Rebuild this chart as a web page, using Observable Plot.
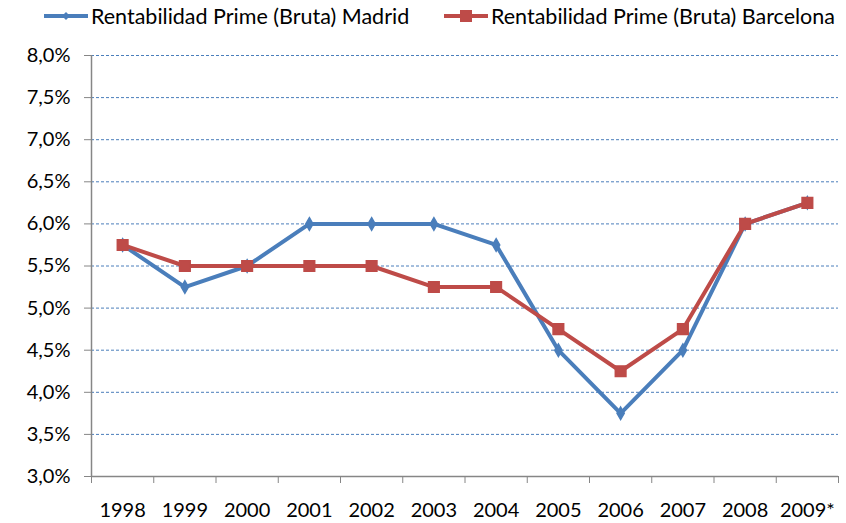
<!DOCTYPE html>
<html>
<head>
<meta charset="utf-8">
<script src="https://cdn.jsdelivr.net/npm/d3@7"></script>
<script src="https://cdn.jsdelivr.net/npm/@observablehq/plot@0.6"></script>
<style>
  html, body { margin: 0; padding: 0; background: #fff; }
  body { width: 846px; height: 523px; overflow: hidden; font-family: Lato, "Open Sans", sans-serif; }
  #legend { position: relative; height: 36px; font-size: 21.5px; color: #000; }
  .item { position: absolute; top: 3px; display: flex; align-items: center; white-space: nowrap; }
  .item svg { margin-right: 3px; }
</style>
</head>
<body>
<div id="legend"></div>
<div id="chart"></div>
<script>
const years = ["1998","1999","2000","2001","2002","2003","2004","2005","2006","2007","2008","2009*"];
const madrid = [5.75, 5.25, 5.5, 6.0, 6.0, 6.0, 5.75, 4.5, 3.75, 4.5, 6.0, 6.25];
const barcelona = [5.75, 5.5, 5.5, 5.5, 5.5, 5.25, 5.25, 4.75, 4.25, 4.75, 6.0, 6.25];
const yTicks = [3.0, 3.5, 4.0, 4.5, 5.0, 5.5, 6.0, 6.5, 7.0, 7.5, 8.0];
const seriesNames = ["Rentabilidad Prime (Bruta) Madrid", "Rentabilidad Prime (Bruta) Barcelona"];
const colors = ["#4a7ebb", "#be4b48"];

const rowsM = years.map((y, i) => ({i, year: y, v: madrid[i]}));
const rowsB = years.map((y, i) => ({i, year: y, v: barcelona[i]}));
const bounds = d3.range(years.length + 1).map(k => k - 0.5);
const fmt = v => v.toFixed(1).replace(".", ",") + "%";

const chart = Plot.plot({
  width: 846,
  height: 487,
  marginLeft: 91,
  marginRight: 8,
  marginTop: 19,
  marginBottom: 47,
  style: {fontFamily: "Lato, 'Open Sans', sans-serif", fontSize: "20px", color: "#000", background: "#fff"},
  x: {type: "linear", domain: [-0.5, years.length - 0.5], axis: null},
  y: {domain: [3, 8], axis: null},
  marks: [
    Plot.ruleY(yTicks.filter(t => t > 3), {stroke: "#4a7ebb", strokeWidth: 1, strokeDasharray: "3,2"}),
    Plot.axisY(yTicks, {tickFormat: fmt, tickSize: 7, tickPadding: 14, label: null, stroke: "#868686", strokeOpacity: 1, fill: "#000", fontSize: 20}),
    Plot.axisX(bounds, {tickFormat: () => "", tickSize: 7, label: null, stroke: "#868686", strokeOpacity: 1}),
    Plot.axisX(d3.range(years.length), {tickFormat: i => years[i], tickSize: 0, tickPadding: 26, label: null, fill: "#000", fontSize: 20}),
    Plot.ruleX([-0.5], {stroke: "#868686", strokeWidth: 1.5}),
    Plot.ruleY([3], {stroke: "#868686", strokeWidth: 1.5}),
    Plot.line(rowsM, {x: "i", y: "v", stroke: colors[0], strokeWidth: 4}),
    Plot.dot(rowsM, {x: "i", y: "v", symbol: "diamond", r: 3.8, fill: colors[0], stroke: colors[0]}),
    Plot.line(rowsB, {x: "i", y: "v", stroke: colors[1], strokeWidth: 4}),
    Plot.dot(rowsB, {x: "i", y: "v", symbol: "square", r: 6, fill: colors[1], stroke: colors[1]})
  ]
});
document.getElementById("chart").appendChild(chart);

// legend
const legend = document.getElementById("legend");
const lefts = [44, 444];
seriesNames.forEach((name, k) => {
  const item = document.createElement("div");
  item.className = "item";
  item.style.left = lefts[k] + "px";
  const marker = k === 0
    ? `<path d="M22,2 L26,6 L22,10 L18,6 Z" fill="${colors[0]}"/>`
    : `<rect x="16" y="0" width="12" height="12" fill="${colors[1]}"/>`;
  item.innerHTML = `<svg width="44" height="12"><line x1="0" x2="44" y1="6" y2="6" stroke="${colors[k]}" stroke-width="4"/>${marker}</svg><span>${name}</span>`;
  legend.appendChild(item);
});
</script>
</body>
</html>
